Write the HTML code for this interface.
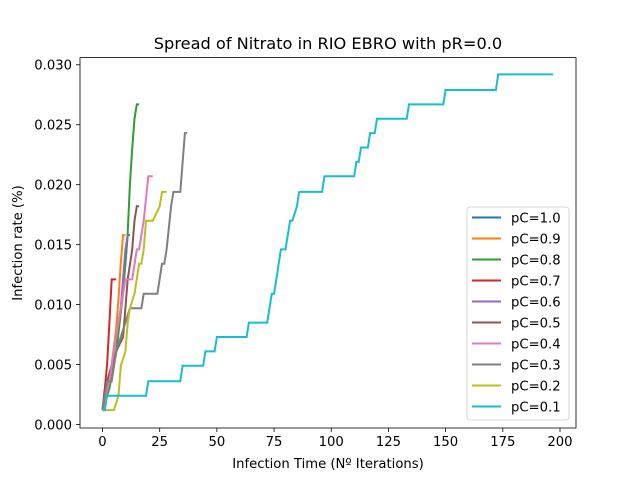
<!DOCTYPE html>
<html><head><meta charset="utf-8"><style>
body{margin:0;background:#fff}
svg{display:block;font-family:"DejaVu Sans","Liberation Sans",sans-serif}
</style></head><body>
<svg id="chart" width="640" height="480" viewBox="0 0 640 480">
<rect width="640" height="480" fill="#fff"/>
<text x="328" y="49" font-size="16.2" text-anchor="middle">Spread of Nitrato in RIO EBRO with pR=0.0</text>
<g id="marks"></g>
<rect x="80" y="57.6" width="496" height="370.4" fill="none" stroke="#000" stroke-width="0.8"/>
<g id="axes" font-size="13.2" fill="#000"></g>
<text x="328" y="468" font-size="13.2" text-anchor="middle">Infection Time (Nº Iterations)</text>
<text transform="translate(22,243) rotate(-90)" font-size="13.2" text-anchor="middle">Infection rate (%)</text>
<g id="legend"></g>
</svg>
<script>
const seriesLabels=["pC=1.0","pC=0.9","pC=0.8","pC=0.7","pC=0.6","pC=0.5","pC=0.4","pC=0.3","pC=0.2","pC=0.1"];
const colors=["#1f77b4","#ff7f0e","#2ca02c","#d62728","#9467bd","#8c564b","#e377c2","#7f7f7f","#bcbd22","#17becf"];
const xTicks=[0,25,50,75,100,125,150,175,200];
const yTicks=[0.000,0.005,0.010,0.015,0.020,0.025,0.030];
const t10=[0,2,4,6,8,10,11,12];
const v10=[0.0012,0.003,0.0049,0.0073,0.0097,0.0134,0.0158,0.0158];
const t09=[0,2,4,6,7,8,9,10];
const v09=[0.0012,0.003,0.005,0.008,0.0105,0.0135,0.0158,0.0158];
const t08=[0,3,6,9,10,11,12,13,14,15,16];
const v08=[0.0012,0.003,0.006,0.011,0.0135,0.016,0.02,0.023,0.0255,0.0267,0.0267];
const t07=[0,1,2,3,4,6];
const v07=[0.0012,0.003,0.005,0.0085,0.0121,0.0121];
const t06=[0,2,4,6,8,10,11];
const v06=[0.0012,0.0036,0.0049,0.0073,0.0097,0.0146,0.0158];
const t05=[0,2,4,6,9,10,11,13,14,15,16];
const v05=[0.0012,0.0036,0.0049,0.0061,0.0073,0.0097,0.0121,0.0146,0.017,0.0182,0.0182];
const t04=[0,3,5,7,9,10,13,15,16,18,20,22];
const v04=[0.0012,0.0036,0.0061,0.0085,0.0109,0.0121,0.0121,0.0146,0.0146,0.017,0.0207,0.0207];
const t03=[0,2,4,6,8,10,12,17,18,24,26,27,28,30,31,34,36,37];
const v03=[0.0012,0.0036,0.0036,0.0061,0.0073,0.0085,0.0097,0.0097,0.0109,0.0109,0.0134,0.0134,0.0146,0.0182,0.0194,0.0194,0.0243,0.0243];
const t02=[0,5,7,8,10,11,12,14,16,17,18,19,22,25,26,28];
const v02=[0.0012,0.0012,0.0024,0.0049,0.0061,0.0085,0.0097,0.0109,0.0134,0.0134,0.0146,0.017,0.017,0.0182,0.0194,0.0194];
const t01=[0,1,2,19,20,34,35,44,45,49,50,63,64,72,73,74,75,78,80,82,83,85,86,96,97,110,111,112,113,116,117,119,120,133,134,149,150,172,173,197];
const v01=[0.0012,0.0012,0.0024,0.0024,0.0036,0.0036,0.0049,0.0049,0.0061,0.0061,0.0073,0.0073,0.0085,0.0085,0.0097,0.0109,0.0109,0.0146,0.0146,0.017,0.017,0.0182,0.0194,0.0194,0.0207,0.0207,0.0219,0.0219,0.0231,0.0231,0.0243,0.0243,0.0255,0.0255,0.0267,0.0267,0.0279,0.0279,0.0292,0.0292];
const seriesT=[t10,t09,t08,t07,t06,t05,t04,t03,t02,t01];
const seriesV=[v10,v09,v08,v07,v06,v05,v04,v03,v02,v01];

const NS="http://www.w3.org/2000/svg";
function xS(t){return 102.5+t*2.2875;}
function yS(v){return 424.5-v*11990;}
const marks=document.getElementById('marks');
for(let s=0;s<seriesT.length;s++){
  const p=document.createElementNS(NS,'polyline');
  p.setAttribute('points',seriesT[s].map((t,i)=>xS(t).toFixed(1)+','+yS(seriesV[s][i]).toFixed(1)).join(' '));
  p.setAttribute('fill','none');p.setAttribute('stroke',colors[s]);p.setAttribute('stroke-width','2');
  
  
  marks.appendChild(p);
}
const axes=document.getElementById('axes');
xTicks.forEach(t=>{
  const l=document.createElementNS(NS,'line');
  l.setAttribute('x1',xS(t));l.setAttribute('x2',xS(t));l.setAttribute('y1',428);l.setAttribute('y2',432);l.setAttribute('stroke','#000');l.setAttribute('stroke-width','0.8');
  
  
  axes.appendChild(l);
  const tx=document.createElementNS(NS,'text');
  tx.setAttribute('x',xS(t));tx.setAttribute('y',446);tx.setAttribute('text-anchor','middle');tx.textContent=t;
  
  
  axes.appendChild(tx);
});
yTicks.forEach(v=>{
  const l=document.createElementNS(NS,'line');
  l.setAttribute('x1',76);l.setAttribute('x2',80);l.setAttribute('y1',yS(v));l.setAttribute('y2',yS(v));l.setAttribute('stroke','#000');l.setAttribute('stroke-width','0.8');
  
  
  axes.appendChild(l);
  const tx=document.createElementNS(NS,'text');
  tx.setAttribute('x',72);tx.setAttribute('y',yS(v)+4.8);tx.setAttribute('text-anchor','end');tx.textContent=v.toFixed(3);
  
  
  axes.appendChild(tx);
});
const lg=document.getElementById('legend');
const box=document.createElementNS(NS,'rect');
box.setAttribute('x',467);box.setAttribute('y',207);box.setAttribute('width',102);box.setAttribute('height',213);box.setAttribute('rx',3);
box.setAttribute('fill','#fff');box.setAttribute('fill-opacity','0.8');box.setAttribute('stroke','#ccc');box.setAttribute('stroke-width','0.8');


lg.appendChild(box);
seriesLabels.forEach((lab,i)=>{
  const y=217.5+i*21;
  const l=document.createElementNS(NS,'line');
  l.setAttribute('x1',472);l.setAttribute('x2',501);l.setAttribute('y1',y);l.setAttribute('y2',y);l.setAttribute('stroke',colors[i]);l.setAttribute('stroke-width','2');
  
  
  lg.appendChild(l);
  const tx=document.createElementNS(NS,'text');
  tx.setAttribute('x',511);tx.setAttribute('y',y+4.8);tx.setAttribute('font-size','13.2');tx.textContent=lab;
  
  
  lg.appendChild(tx);
});
</script>
</body></html>
